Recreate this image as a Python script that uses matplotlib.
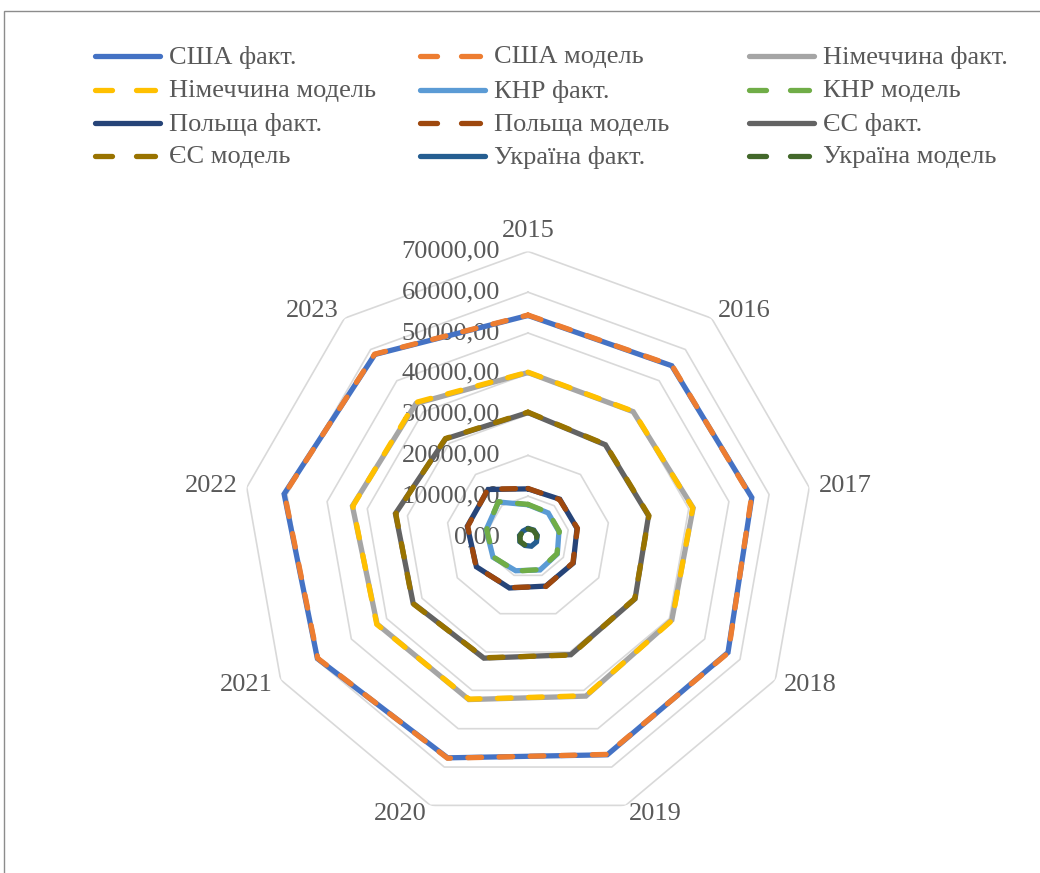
import numpy as np
import matplotlib
matplotlib.use("Agg")
import matplotlib.pyplot as plt
from matplotlib.lines import Line2D
from matplotlib.patches import Rectangle

# Categories (years) and radial scale
years = ["2015", "2016", "2017", "2018", "2019", "2020", "2021", "2022", "2023"]
r_ticks = [0, 10000, 20000, 30000, 40000, 50000, 60000, 70000]

# Series values
usa_fact = [54300, 54800, 55700, 56600, 56800, 57600, 59600, 60700, 58400]
usa_model = [54400, 54900, 55600, 56700, 56700, 57700, 59500, 60600, 58500]
ger_fact = [40300, 40100, 41100, 40700, 41500, 42400, 42700, 43700, 42700]
ger_model = [40400, 40200, 41000, 40800, 41400, 42300, 42800, 43600, 43000]
chn_fact = [7900, 7700, 7700, 8300, 8600, 8800, 9900, 10400, 11200]
chn_model = [8000, 7800, 7800, 8200, 8500, 8900, 9800, 10300, 11300]
pol_fact = [11800, 12100, 12200, 12800, 12800, 13300, 14600, 15100, 15200]
pol_model = [11900, 12000, 12300, 12700, 12900, 13200, 14700, 15000, 15300]
eu_fact = [30500, 29500, 30000, 30300, 30700, 31600, 32500, 33000, 31400]
eu_model = [30600, 29600, 30100, 30200, 30800, 31500, 32600, 32900, 31500]
ukr_fact = [2100, 2200, 2300, 2400, 2400, 2200, 2300, 2100, 1900]
ukr_model = [2000, 2100, 2200, 2300, 2300, 2100, 2200, 2000, 1800]

series = [
    ("США факт.", usa_fact, "#4472C4", False),
    ("США модель", usa_model, "#ED7D31", True),
    ("Німеччина факт.", ger_fact, "#A5A5A5", False),
    ("Німеччина модель", ger_model, "#FFC000", True),
    ("КНР факт.", chn_fact, "#5B9BD5", False),
    ("КНР модель", chn_model, "#70AD47", True),
    ("Польща факт.", pol_fact, "#264478", False),
    ("Польща модель", pol_model, "#9E480E", True),
    ("ЄС факт.", eu_fact, "#636363", False),
    ("ЄС модель", eu_model, "#997300", True),
    ("Україна факт.", ukr_fact, "#255E91", False),
    ("Україна модель", ukr_model, "#43682B", True),
]

plt.rcParams["font.family"] = ["Liberation Serif", "DejaVu Serif"]
TEXT = "#595959"
FS = 19
LW = 3.8
DASH = (2.6, 3.3)

W, H = 1040, 873
fig = plt.figure(figsize=(W / 100, H / 100), dpi=100)
fig.patch.set_facecolor("white")

# Outer chart frame
fig.add_artist(Rectangle((4 / W, -0.1), 1.2, 1 - 11 / H + 0.1,
                         transform=fig.transFigure, fill=False,
                         edgecolor="#8C8C8C", lw=1.0))

cx, cy, R = 528, 537, 285.6
ax = fig.add_axes([(cx - R) / W, (H - cy - R) / H, 2 * R / W, 2 * R / H],
                  projection="polar")
ax.set_theta_zero_location("N")
ax.set_theta_direction(-1)
ax.set_ylim(0, 70000)
ax.set_xticks([])
ax.set_yticks([])
ax.grid(False)
ax.spines["polar"].set_visible(False)
ax.patch.set_alpha(0)

n = len(years)
theta = np.arange(n) * 2 * np.pi / n
theta_c = np.append(theta, theta[0])

# Polygon gridlines
for v in r_ticks[1:]:
    ax.plot(theta_c, [v] * (n + 1), color="#D9D9D9", lw=1.2, zorder=1)

# Series
for label, vals, color, dashed in series:
    vals_c = list(vals) + [vals[0]]
    kw = dict(color=color, lw=LW, solid_capstyle="round",
              solid_joinstyle="miter", zorder=3)
    if dashed:
        kw.update(dashes=DASH, dash_capstyle="round", dash_joinstyle="round")
    ax.plot(theta_c, vals_c, **kw)

# Radial value labels
for v in r_ticks:
    ax.annotate(f"{v:.2f}".replace(".", ","), xy=(0, v), xytext=(-28, 0),
                textcoords="offset pixels", ha="right", va="center",
                fontsize=FS, color=TEXT, zorder=2)

# Category labels
pad = 9.5
for i, (t, y) in enumerate(zip(theta, years)):
    dx, dy = pad * np.sin(t), pad * np.cos(t)
    if i == 0:
        ha, va = "center", "bottom"
    elif i <= 4:
        ha, va = "left", "center"
    else:
        ha, va = "right", "center"
    ax.annotate(y, xy=(t, 70000), xytext=(dx, dy), textcoords="offset pixels",
                ha=ha, va=va, fontsize=FS, color=TEXT, annotation_clip=False)

# Legend (3 columns x 4 rows)
col_x = [92, 417, 746]
row_y = [55.5, 89.5, 122.5, 155.5]
hlen = 71
cap = 2.7
for k, (label, vals, color, dashed) in enumerate(series):
    r, c = divmod(k, 3)
    x0 = col_x[c]
    yf = 1 - row_y[r] / H
    if dashed:
        segs = [(x0 + cap, x0 + 23 - cap), (x0 + 41 + cap, x0 + 66 - cap)]
    else:
        segs = [(x0 + cap, x0 + hlen - cap)]
    for a, b in segs:
        fig.add_artist(Line2D([a / W, b / W], [yf, yf],
                              transform=fig.transFigure, color=color, lw=LW,
                              solid_capstyle="round"))
    fig.text((x0 + hlen + 6) / W, 1 - (row_y[r] + 2) / H, label,
             ha="left", va="center", fontsize=FS, color=TEXT)

fig.savefig("out.png", dpi=100, facecolor="white")
